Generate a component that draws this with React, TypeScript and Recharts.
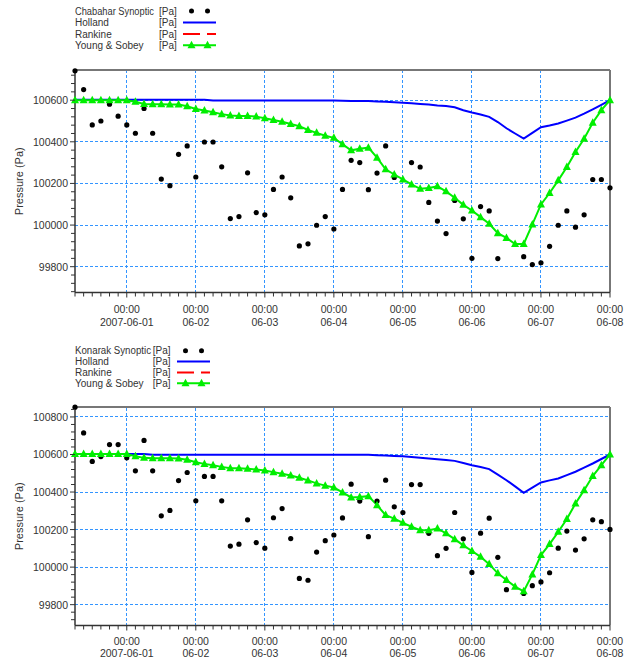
import React from 'react';
import { ComposedChart, Line, XAxis, YAxis, ReferenceLine } from 'recharts';

// 3-hourly time axis, hours from 2007-06-01 00:00
const hours = [
  -18, -15, -12, -9, -6, -3, 0, 3, 6, 9, 12, 15, 18, 21, 24, 27, 30, 33, 36, 39, 42,
  45, 48, 51, 54, 57, 60, 63, 66, 69, 72, 75, 78, 81, 84, 87, 90, 93, 96, 99, 102, 105,
  108, 111, 114, 117, 120, 123, 126, 129, 132, 135, 138, 141, 144, 147, 150, 153, 156,
  159, 162, 165, 168,
];
const dayTicks = [0, 24, 48, 72, 96, 120, 144, 168];
const dayLabels = ['2007-06-01', '06-02', '06-03', '06-04', '06-05', '06-06', '06-07', '06-08'];

// Chabahar
const chabaharSynoptic = [
  100741, 100651, 100481, 100500, 100581, 100523, 100481, 100441, 100560, 100441, 100221,
  100189, 100340, 100380, 100231, 100399, 100399, 100280, 100031, 100041, 100251, 100060,
  100049, 100171, 100231, 100131, 99900, 99910, 99999, 100041, 99981, 100171, 100311,
  100300, 100170, 100250, 100380, 100229, null, 100300, 100279, 100109, 100019, 99959,
  100118, 100030, 99840, 100089, 100068, 99839, null, null, 99848, 99810, 99819, 99898,
  99999, 100068, 99990, 100049, 100219, 100219, 100179,
];
const chabaharHolland = [
  100602, 100602, 100602, 100602, 100602, 100602, 100602, 100602, 100602, 100602, 100602,
  100602, 100602, 100602, 100602, 100602, 100598, 100598, 100598, 100598, 100598, 100598,
  100598, 100598, 100598, 100598, 100598, 100598, 100598, 100598, 100598, 100597, 100596,
  100596, 100596, 100594, 100592, 100590, 100588, 100585, 100582, 100579, 100575, 100572,
  100566, 100552, 100541, 100531, 100520, 100495, 100465, 100440, 100415, 100443, 100470,
  100478, 100488, 100502, 100516, 100535, 100556, 100578, 100600,
];
const chabaharYoung = [
  100600, 100600, 100600, 100600, 100600, 100600, 100600, 100592, 100582, 100581, 100581,
  100579, 100579, 100571, 100558, 100550, 100542, 100533, 100526, 100524, 100524, 100521,
  100513, 100505, 100496, 100486, 100475, 100457, 100443, 100429, 100419, 100388, 100359,
  100367, 100372, 100324, 100268, 100243, 100219, 100195, 100174, 100178, 100186, 100162,
  100131, 100097, 100070, 100038, 100006, 99961, 99938, 99909, 99909, 100003, 100099,
  100154, 100215, 100279, 100351, 100415, 100492, 100552, 100600,
];

// Konarak
const konarakSynoptic = [
  100852, 100715, 100563, 100589, 100653, 100653, 100582, 100513, 100675, 100513, 100273,
  100302, 100461, 100504, 100353, 100483, 100483, 100353, 100112, 100122, 100252, 100131,
  100101, 100263, 100312, 100152, 99940, 99930, 100080, 100141, 100171, 100262, 100442,
  100352, 100162, 100352, 100463, 100321, 100291, 100440, 100440, 100180, 100061, 100100,
  100291, 100151, 99972, 100181, 100261, 100052, 99880, null, 99860, 99901, 99921, 99970,
  100101, 100192, 100091, 100151, 100252, 100242, 100201,
];
const konarakHolland = [
  100602, 100602, 100602, 100602, 100602, 100602, 100602, 100602, 100602, 100598, 100598,
  100598, 100598, 100598, 100598, 100598, 100598, 100598, 100598, 100598, 100598, 100598,
  100598, 100598, 100598, 100598, 100598, 100598, 100598, 100598, 100598, 100598, 100598,
  100598, 100598, 100596, 100594, 100592, 100590, 100587, 100583, 100579, 100575, 100571,
  100566, 100555, 100543, 100533, 100522, 100493, 100463, 100430, 100396, 100424, 100451,
  100462, 100472, 100490, 100508, 100530, 100552, 100576, 100600,
];
const konarakYoung = [
  100603, 100603, 100603, 100603, 100603, 100603, 100603, 100591, 100582, 100580, 100580,
  100580, 100579, 100572, 100559, 100550, 100543, 100534, 100527, 100527, 100524, 100520,
  100515, 100506, 100497, 100488, 100476, 100462, 100446, 100434, 100424, 100398, 100371,
  100373, 100378, 100330, 100277, 100258, 100236, 100215, 100197, 100197, 100206, 100180,
  100149, 100116, 100086, 100055, 100016, 99967, 99931, 99896, 99871, 99961, 100064,
  100123, 100188, 100256, 100339, 100410, 100485, 100543, 100600,
];

const topMinorY = [
  99680, 99720, 99760, 99800, 99840, 99880, 99920, 99960, 100000, 100040, 100080, 100120,
  100160, 100200, 100240, 100280, 100320, 100360, 100400, 100440, 100480, 100520, 100560,
  100600, 100640, 100680, 100720,
];
const topMajorY = [99800, 100000, 100200, 100400, 100600];
const bottomMinorY = [
  99720, 99760, 99800, 99840, 99880, 99920, 99960, 100000, 100040, 100080, 100120, 100160,
  100200, 100240, 100280, 100320, 100360, 100400, 100440, 100480, 100520, 100560, 100600,
  100640, 100680, 100720, 100760, 100800, 100840,
];
const bottomMajorY = [99800, 100000, 100200, 100400, 100600, 100800];

const chabaharRows = hours.map((h, i) => ({
  h, syn: chabaharSynoptic[i], holland: chabaharHolland[i], young: chabaharYoung[i],
}));
const konarakRows = hours.map((h, i) => ({
  h, syn: konarakSynoptic[i], holland: konarakHolland[i], young: konarakYoung[i],
}));

const font = '"Liberation Sans", Arial, sans-serif';
const textColor = '#333';
const gridColor = '#3395ff';
const blue = '#0000ff';
const green = '#00ee00';
const red = '#ff0000';

const XTick = (props: any) => {
  const { x, y, payload, off1, off2 } = props;
  const i = dayTicks.indexOf(payload.value);
  return (
    <g>
      <line x1={x} y1={y} x2={x} y2={y + (i >= 0 ? 5 : 4)} stroke="#333" />
      {i >= 0 && (
        <g fontFamily={font} fontSize={10.5} fill={textColor} textAnchor="middle">
          <text x={x} y={y + off1}>00:00</text>
          <text x={x} y={y + off2}>{dayLabels[i]}</text>
        </g>
      )}
    </g>
  );
};

const YTick = (props: any) => {
  const { x, y, payload } = props;
  const major = payload.value % 200 === 0;
  return (
    <g>
      <line x1={x - (major ? 5 : 4)} y1={y} x2={x} y2={y} stroke="#333" />
      {major && (
        <text x={x - 7} y={y + 4} textAnchor="end" fontFamily={font} fontSize={10.5} fill={textColor}>
          {payload.value}
        </text>
      )}
    </g>
  );
};

const SynDot = (props: any) => {
  const { cx, cy, value } = props;
  if (value == null || cy == null || Number.isNaN(cy)) return <g key={props.index} />;
  return <circle key={props.index} cx={cx} cy={cy} r={2.6} fill="#000" />;
};

const TriDot = (props: any) => {
  const { cx, cy } = props;
  if (cy == null) return <g key={props.index} />;
  return (
    <polygon
      key={props.index}
      points={`${cx},${cy - 4.5} ${cx - 4},${cy + 3} ${cx + 4},${cy + 3}`}
      fill={green}
    />
  );
};

type PanelProps = {
  top: number;
  height: number;
  marginTop: number;
  xHeight: number;
  rows: any[];
  domain: [number, number];
  minorY: number[];
  majorY: number[];
  off1: number;
  off2: number;
};

const Panel = ({ top, height, marginTop, xHeight, rows, domain, minorY, majorY, off1, off2 }: PanelProps) => (
  <div style={{ position: 'absolute', left: 0, top }}>
    <ComposedChart
      width={632}
      height={height}
      data={rows}
      margin={{ top: marginTop, right: 22, bottom: 0, left: 0 }}
    >
      <XAxis
        dataKey="h"
        type="number"
        domain={[-18, 168]}
        ticks={hours}
        interval={0}
        height={xHeight}
        tickSize={0}
        tickMargin={0}
        tickLine={false}
        axisLine={{ stroke: '#333', strokeWidth: 1.5 }}
        tick={(p: any) => <XTick {...p} off1={off1} off2={off2} />}
      />
      <YAxis
        type="number"
        domain={domain}
        ticks={minorY}
        interval={0}
        width={75}
        tickSize={0}
        tickMargin={0}
        tickLine={false}
        axisLine={{ stroke: '#333', strokeWidth: 1.5 }}
        tick={(p: any) => <YTick {...p} />}
        label={{
          value: 'Pressure (Pa)',
          angle: -90,
          position: 'insideLeft',
          offset: 19,
          style: { textAnchor: 'middle', fontFamily: font, fontSize: 11, fill: textColor },
        }}
      />
      {majorY.map((v) => (
        <ReferenceLine key={`gy${v}`} y={v} stroke={gridColor} strokeDasharray="3 2" shapeRendering="crispEdges" />
      ))}
      {dayTicks.slice(0, -1).map((v) => (
        <ReferenceLine key={`gx${v}`} x={v} stroke={gridColor} strokeDasharray="3 2" shapeRendering="crispEdges" />
      ))}
      <ReferenceLine y={domain[1]} stroke="#777" strokeWidth={2} />
      <ReferenceLine x={168} stroke="#777" strokeWidth={2} />
      <Line
        dataKey="syn"
        stroke="none"
        dot={SynDot}
        activeDot={false}
        isAnimationActive={false}
      />
      <Line
        dataKey="holland"
        stroke={blue}
        strokeWidth={2}
        dot={false}
        activeDot={false}
        isAnimationActive={false}
      />
      <Line
        dataKey="young"
        stroke={green}
        strokeWidth={2}
        dot={TriDot}
        activeDot={false}
        isAnimationActive={false}
      />
    </ComposedChart>
  </div>
);

const LegendBlock = ({ top, first, firstWidth, unitX, symX, rowYs }: { top: number; first: string; firstWidth: number; unitX: number; symX: number; rowYs: number[] }) => {
  const names = [first, 'Holland', 'Rankine', 'Young & Sobey'];
  const d1 = symX + 8.5;
  const d2 = symX + 24.5;
  return (
    <svg style={{ position: 'absolute', left: 0, top }} width={632} height={60}>
      <g fontFamily={font} fontSize={10} fill={textColor}>
        {names.map((n, i) => (
          <g key={n}>
            <text
              x={75}
              y={rowYs[i] + 3.5}
              textLength={i === 0 ? firstWidth : undefined}
              lengthAdjust={i === 0 ? 'spacingAndGlyphs' : undefined}
            >
              {n}
            </text>
            <text x={unitX} y={rowYs[i] + 3.5}>[Pa]</text>
          </g>
        ))}
      </g>
      <circle cx={d1} cy={rowYs[0]} r={2.5} fill="#000" />
      <circle cx={d2} cy={rowYs[0]} r={2.5} fill="#000" />
      <line x1={symX} x2={symX + 33} y1={rowYs[1]} y2={rowYs[1]} stroke={blue} strokeWidth={2} />
      <line x1={symX} x2={symX + 33} y1={rowYs[2]} y2={rowYs[2]} stroke={red} strokeWidth={2} strokeDasharray="17 7" />
      <line x1={symX} x2={symX + 33} y1={rowYs[3]} y2={rowYs[3]} stroke={green} strokeWidth={2} />
      {[d1, d2].map((cx) => (
        <polygon key={cx} points={`${cx},${rowYs[3] - 4.5} ${cx - 4},${rowYs[3] + 3} ${cx + 4},${rowYs[3] + 3}`} fill={green} />
      ))}
    </svg>
  );
};

export default function App() {
  return (
    <div style={{ position: 'absolute', left: 0, top: 0, width: 632, height: 662, background: '#fff', overflow: 'hidden' }}>
      <Panel
        top={0}
        height={330}
        marginTop={70}
        xHeight={37.5}
        rows={chabaharRows}
        domain={[99676, 100745]}
        minorY={topMinorY}
        majorY={topMajorY}
        off1={20}
        off2={33.5}
      />
      <LegendBlock top={0} first="Chabahar Synoptic" firstWidth={79} unitX={159} symX={183} rowYs={[11, 22.5, 34, 45.3]} />
      <Panel
        top={330}
        height={332}
        marginTop={77}
        xHeight={36.5}
        rows={konarakRows}
        domain={[99689, 100853]}
        minorY={bottomMinorY}
        majorY={bottomMajorY}
        off1={19}
        off2={31}
      />
      <LegendBlock top={330} first="Konarak Synoptic" firstWidth={76} unitX={152.7} symX={177} rowYs={[20.7, 31.5, 42.5, 53.3]} />
    </div>
  );
}
